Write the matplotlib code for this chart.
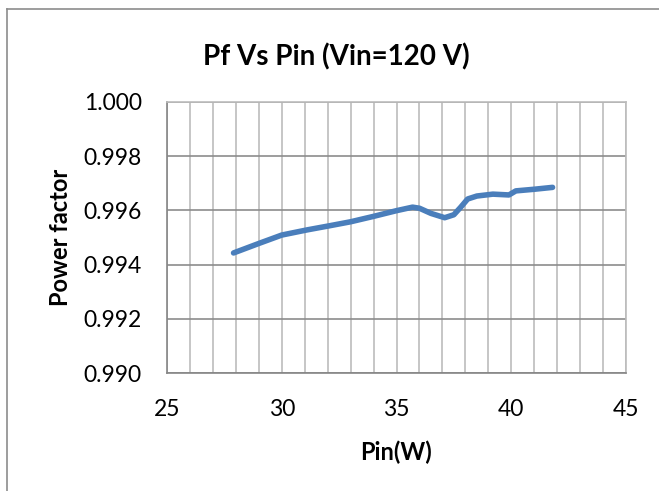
import matplotlib
matplotlib.use("Agg")
import matplotlib.pyplot as plt
from matplotlib.lines import Line2D
import numpy as np

pin = [27.9, 29.0, 30.0, 31.1, 32.0, 33.0, 34.0, 35.0, 35.7, 36.0, 36.5, 37.1, 37.5, 37.8, 38.1, 38.5,
       39.2, 39.9, 40.2, 41.0, 41.8]
pf = [0.99443, 0.99478, 0.99509, 0.99528, 0.99542, 0.99558, 0.99578, 0.99599, 0.99612, 0.99608,
      0.99589, 0.99573, 0.99584, 0.99612, 0.99642, 0.99653, 0.99660, 0.99657, 0.99672, 0.99678, 0.99685]
xticks = [25, 30, 35, 40, 45]
yticks = [0.990, 0.992, 0.994, 0.996, 0.998, 1.000]

plt.rcParams['font.family'] = ['Lato', 'DejaVu Sans']

W, H = 659, 491
fig = plt.figure(figsize=(W/100, H/100), dpi=100)
ax = fig.add_axes([167/W, 1-373/H, (626-167)/W, (373-102)/H])

ax.plot(pin, pf, color='#4a7ebb', lw=4, solid_capstyle='round', solid_joinstyle='round', zorder=3)

ax.set_xlim(25, 45)
ax.set_ylim(0.990, 1.000)
ax.set_xticks(xticks)
ax.set_xticks(np.arange(25, 46, 1), minor=True)
ax.set_yticks(yticks)
ax.set_yticklabels([f"{v:.3f}" for v in yticks])
ax.tick_params(axis='both', which='both', length=0, labelsize=16.5, colors='black')
ax.tick_params(axis='x', pad=19)
ax.tick_params(axis='y', pad=18)
ax.grid(True, axis='x', which='both', color='#bcbcbc', lw=1.2)
ax.grid(True, axis='y', which='major', color='#8c8c8c', lw=1.2)
for s in ['top', 'right']:
    ax.spines[s].set_color('#bcbcbc')
    ax.spines[s].set_linewidth(1.2)
for s in ['left', 'bottom']:
    ax.spines[s].set_color('#868686')
    ax.spines[s].set_linewidth(1.2)

ax.set_xlabel('Pin(W)', fontsize=17, fontweight='bold', va='center')
ax.set_ylabel('Power factor', fontsize=17, fontweight='bold', va='center')
ax.xaxis.set_label_coords((396-167)/459, (373-452)/271)
ax.yaxis.set_label_coords((60-167)/459, (373-237)/271)
fig.text(336/W, 1-57/H, 'Pf Vs Pin (Vin=120 V)', ha='center', va='center', fontsize=20, fontweight='bold')

fig.add_artist(Line2D([7/W, 7/W], [0, 1-9/H], transform=fig.transFigure, color='#8c8c8c', lw=1.2))
fig.add_artist(Line2D([7/W, 1], [1-9/H, 1-9/H], transform=fig.transFigure, color='#8c8c8c', lw=1.2))

fig.savefig('out.png', dpi=100)
